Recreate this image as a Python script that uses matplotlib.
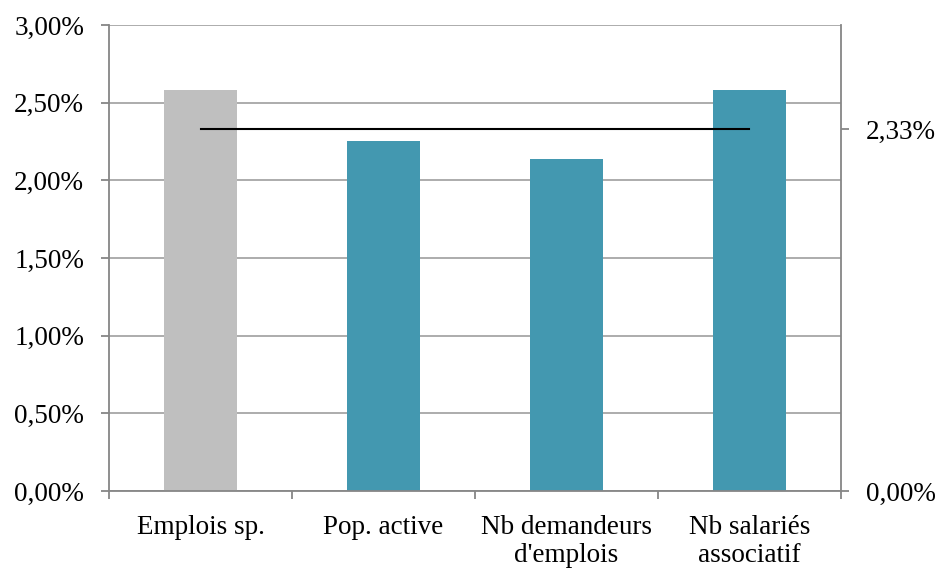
import matplotlib.pyplot as plt
from matplotlib.ticker import FuncFormatter

categories = ['Emplois sp.', 'Pop. active', 'Nb demandeurs\nd\'emplois',
              'Nb salariés\nassociatif']
values = [0.0258, 0.0225, 0.0214, 0.0258]
bar_colors = ['#bfbfbf', '#4398b0', '#4398b0', '#4398b0']
average = 0.0233
right_ticks = [0.0, average]

plt.rcParams['font.family'] = ['Liberation Serif', 'DejaVu Serif']
plt.rcParams['font.size'] = 19.5


def pct(v, pos=None):
    return ('%.2f%%' % (v * 100)).replace('.', ',')


fig = plt.figure(figsize=(9.43, 5.70), dpi=100)
ax = fig.add_axes([0.1156, 0.1386, 0.7762, 0.8176])

x = range(len(categories))
ax.bar(x, values, width=0.40, color=bar_colors, zorder=2)
ax.plot([0, len(categories) - 1], [average, average], color='black', lw=1.5,
        zorder=3)

ax.set_xlim(-0.5, len(categories) - 0.5)
ax.set_ylim(0, 0.03)
ax.set_yticks([i * 0.005 for i in range(7)])
ax.yaxis.set_major_formatter(FuncFormatter(pct))
ax.grid(axis='y', color='#a6a6a6', lw=1.3, zorder=1)

ax.set_xticks(x)
ax.set_xticklabels(categories, linespacing=1.2)
ax.set_xticks([i - 0.5 for i in range(len(categories) + 1)], minor=True)
ax.tick_params(axis='x', which='major', length=0, pad=17)
ax.tick_params(axis='x', which='minor', length=6, color='#868686', width=1.3)
ax.tick_params(axis='y', length=6, color='#868686', width=1.3, pad=12)

for side in ['top', 'right']:
    ax.spines[side].set_visible(False)
for side in ['left', 'bottom']:
    ax.spines[side].set_color('#868686')
    ax.spines[side].set_linewidth(1.3)

ax2 = ax.twinx()
ax2.set_ylim(0, 0.03)
ax2.set_yticks(right_ticks)
ax2.yaxis.set_major_formatter(FuncFormatter(pct))
ax2.tick_params(axis='y', length=6, color='#868686', width=1.3, pad=12)
for side in ['top', 'left', 'bottom']:
    ax2.spines[side].set_visible(False)
ax2.spines['right'].set_color('#868686')
ax2.spines['right'].set_linewidth(1.3)

plt.savefig('out.png', dpi=100)
